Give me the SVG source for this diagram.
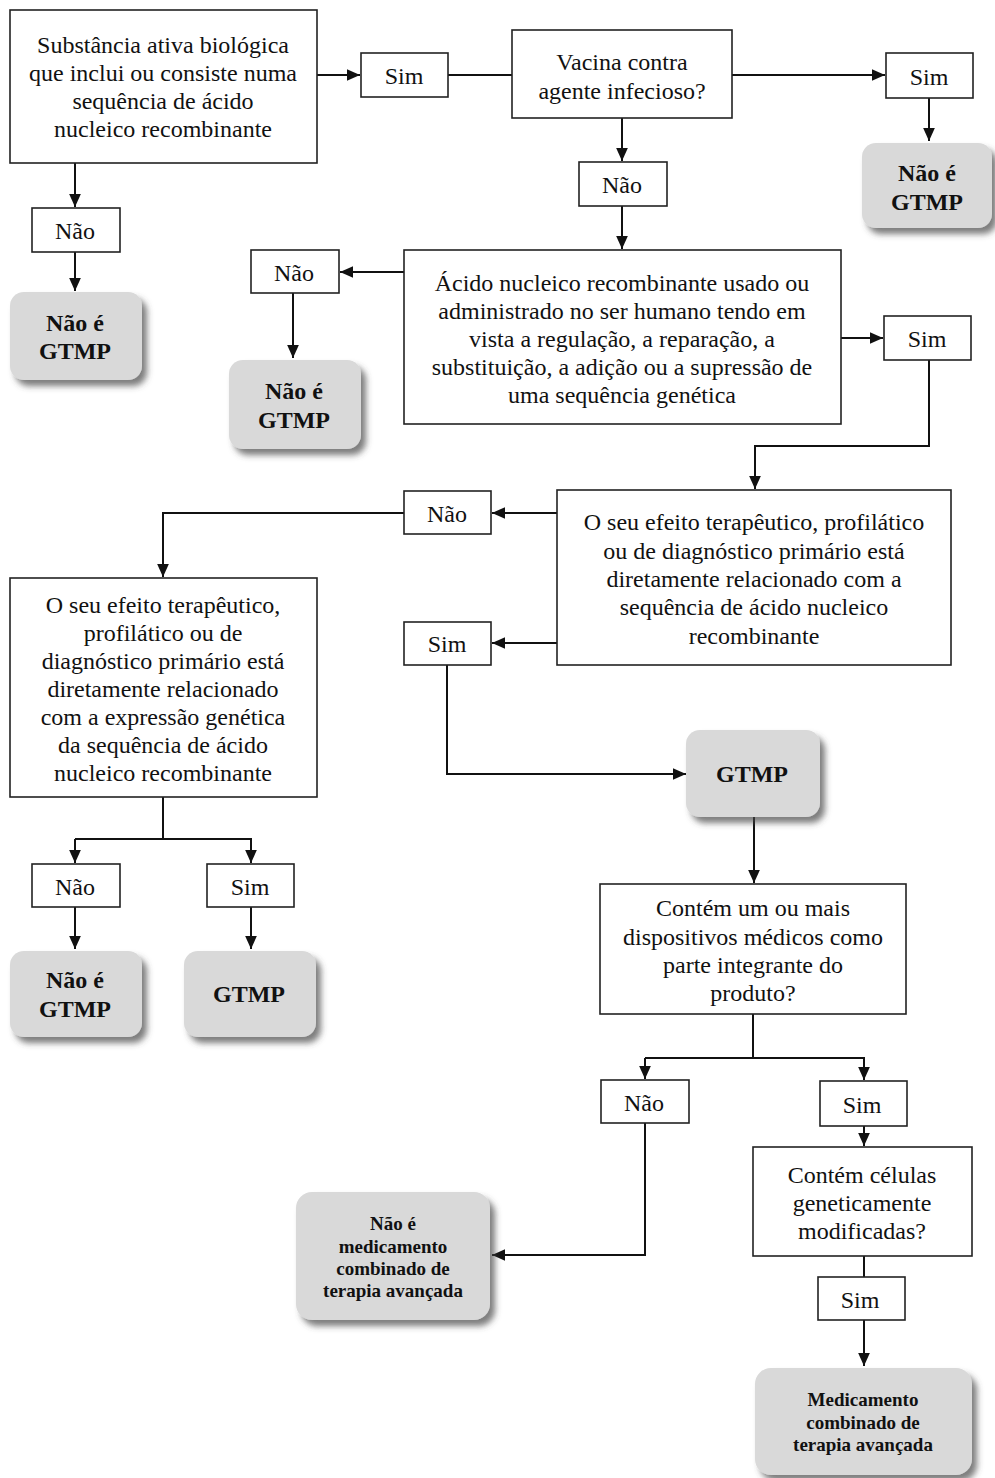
<svg xmlns="http://www.w3.org/2000/svg" width="995" height="1478" viewBox="0 0 995 1478">
<style>
.box{fill:#fff;stroke:#222;stroke-width:1.6}
.term{fill:#d9d9d9;stroke:none}
.t{font-family:"Liberation Serif","Times New Roman",serif;font-size:24px;fill:#111;text-anchor:middle}
.b{font-family:"Liberation Serif","Times New Roman",serif;font-weight:bold;font-size:24px;fill:#111;text-anchor:middle}
.bs{font-family:"Liberation Serif","Times New Roman",serif;font-weight:bold;font-size:19px;fill:#111;text-anchor:middle}
.c{fill:none;stroke:#111;stroke-width:2}
.ca{fill:none;stroke:#111;stroke-width:2;marker-end:url(#ah)}
</style>
<defs>
<marker id="ah" viewBox="0 0 10 10" refX="10" refY="5" markerWidth="13" markerHeight="13" markerUnits="userSpaceOnUse" orient="auto">
<path d="M0,0.5 L10,5 L0,9.5 z" fill="#111"/>
</marker>
<filter id="sh" x="-20%" y="-20%" width="150%" height="150%">
<feDropShadow dx="5" dy="6" stdDeviation="3" flood-color="#444" flood-opacity="0.7"/>
</filter>
</defs>
<rect width="995" height="1478" fill="#fff"/>

<g id="connectors">
<path class="ca" d="M317,75 H360"/>
<path class="c" d="M448,75 H512"/>
<path class="ca" d="M732,75 H885"/>
<path class="ca" d="M929,98 V141"/>
<path class="ca" d="M622,118 V161"/>
<path class="ca" d="M622,206 V249"/>
<path class="ca" d="M75,163 V207"/>
<path class="ca" d="M75,252 V291"/>
<path class="ca" d="M404,272 H340"/>
<path class="ca" d="M293,293 V358"/>
<path class="ca" d="M841,338 H883"/>
<path class="ca" d="M929,360 V446 H755 V489"/>
<path class="ca" d="M557,513 H492"/>
<path class="ca" d="M404,513 H163 V577"/>
<path class="ca" d="M557,643 H492"/>
<path class="ca" d="M447,665 V774 H686"/>
<path class="ca" d="M754,817 V883"/>
<path class="c" d="M163,797 V839"/>
<path class="ca" d="M75,839 V863"/>
<path class="ca" d="M75,839 H251 V863"/>
<path class="ca" d="M75,907 V949"/>
<path class="ca" d="M251,907 V949"/>
<path class="c" d="M753,1014 V1058"/>
<path class="ca" d="M645,1058 V1079"/>
<path class="ca" d="M645,1058 H864 V1080"/>
<path class="ca" d="M645,1123 V1255 H492"/>
<path class="ca" d="M864,1126 V1146"/>
<path class="c" d="M864,1256 V1277"/>
<path class="ca" d="M864,1320 V1366"/>
</g>

<g id="n1">
<rect class="box" x="10" y="10" width="307" height="153"/>
<text class="t" x="163" y="53">Substância ativa biológica</text>
<text class="t" x="163" y="81">que inclui ou consiste numa</text>
<text class="t" x="163" y="109">sequência de ácido</text>
<text class="t" x="163" y="137">nucleico recombinante</text>
</g>
<g id="sim1"><rect class="box" x="361" y="53" width="87" height="44"/><text class="t" x="404" y="84">Sim</text></g>
<g id="n2">
<rect class="box" x="512" y="30" width="220" height="88"/>
<text class="t" x="622" y="70">Vacina contra</text>
<text class="t" x="622" y="99">agente infecioso?</text>
</g>
<g id="sim2"><rect class="box" x="886" y="53" width="87" height="45"/><text class="t" x="929" y="85">Sim</text></g>
<g id="t1" filter="url(#sh)"><rect class="term" x="862" y="143" width="130" height="85" rx="14"/></g>
<g id="t1txt"><text class="b" x="927" y="181">Não é</text><text class="b" x="927" y="210">GTMP</text></g>
<g id="nao2"><rect class="box" x="579" y="162" width="88" height="44"/><text class="t" x="622" y="193">Não</text></g>
<g id="nao1"><rect class="box" x="32" y="208" width="88" height="44"/><text class="t" x="75" y="239">Não</text></g>
<g id="t2" filter="url(#sh)"><rect class="term" x="10" y="292" width="132" height="88" rx="14"/></g>
<g id="t2txt"><text class="b" x="75" y="331">Não é</text><text class="b" x="75" y="359">GTMP</text></g>
<g id="n3">
<rect class="box" x="404" y="250" width="437" height="174"/>
<text class="t" x="622" y="291">Ácido nucleico recombinante usado ou</text>
<text class="t" x="622" y="319">administrado no ser humano tendo em</text>
<text class="t" x="622" y="347">vista a regulação, a reparação, a</text>
<text class="t" x="622" y="375">substituição, a adição ou a supressão de</text>
<text class="t" x="622" y="403">uma sequência genética</text>
</g>
<g id="nao3"><rect class="box" x="251" y="250" width="88" height="43"/><text class="t" x="294" y="281">Não</text></g>
<g id="t3" filter="url(#sh)"><rect class="term" x="229" y="360" width="132" height="89" rx="14"/></g>
<g id="t3txt"><text class="b" x="294" y="399">Não é</text><text class="b" x="294" y="428">GTMP</text></g>
<g id="sim3"><rect class="box" x="884" y="316" width="87" height="44"/><text class="t" x="927" y="347">Sim</text></g>
<g id="n4">
<rect class="box" x="557" y="490" width="394" height="175"/>
<text class="t" x="754" y="530">O seu efeito terapêutico, profilático</text>
<text class="t" x="754" y="559">ou de diagnóstico primário está</text>
<text class="t" x="754" y="587">diretamente relacionado com a</text>
<text class="t" x="754" y="615">sequência de ácido nucleico</text>
<text class="t" x="754" y="644">recombinante</text>
</g>
<g id="nao4"><rect class="box" x="404" y="491" width="87" height="43"/><text class="t" x="447" y="522">Não</text></g>
<g id="sim4"><rect class="box" x="404" y="622" width="87" height="43"/><text class="t" x="447" y="652">Sim</text></g>
<g id="n5">
<rect class="box" x="10" y="578" width="307" height="219"/>
<text class="t" x="163" y="613">O seu efeito terapêutico,</text>
<text class="t" x="163" y="641">profilático ou de</text>
<text class="t" x="163" y="669">diagnóstico primário está</text>
<text class="t" x="163" y="697">diretamente relacionado</text>
<text class="t" x="163" y="725">com a expressão genética</text>
<text class="t" x="163" y="753">da sequência de ácido</text>
<text class="t" x="163" y="781">nucleico recombinante</text>
</g>
<g id="t4" filter="url(#sh)"><rect class="term" x="686" y="730" width="134" height="87" rx="14"/></g>
<g id="t4txt"><text class="b" x="752" y="782">GTMP</text></g>
<g id="nao5"><rect class="box" x="32" y="864" width="88" height="43"/><text class="t" x="75" y="895">Não</text></g>
<g id="sim5"><rect class="box" x="207" y="864" width="87" height="43"/><text class="t" x="250" y="895">Sim</text></g>
<g id="t5" filter="url(#sh)"><rect class="term" x="10" y="951" width="132" height="86" rx="14"/></g>
<g id="t5txt"><text class="b" x="75" y="988">Não é</text><text class="b" x="75" y="1017">GTMP</text></g>
<g id="t6" filter="url(#sh)"><rect class="term" x="184" y="951" width="132" height="86" rx="14"/></g>
<g id="t6txt"><text class="b" x="249" y="1002">GTMP</text></g>
<g id="n6">
<rect class="box" x="600" y="884" width="306" height="130"/>
<text class="t" x="753" y="916">Contém um ou mais</text>
<text class="t" x="753" y="945">dispositivos médicos como</text>
<text class="t" x="753" y="973">parte integrante do</text>
<text class="t" x="753" y="1001">produto?</text>
</g>
<g id="nao6"><rect class="box" x="601" y="1080" width="88" height="43"/><text class="t" x="644" y="1111">Não</text></g>
<g id="sim6"><rect class="box" x="820" y="1081" width="87" height="45"/><text class="t" x="862" y="1113">Sim</text></g>
<g id="t7" filter="url(#sh)"><rect class="term" x="296" y="1192" width="194" height="128" rx="16"/></g>
<g id="t7txt">
<text class="bs" x="393" y="1230">Não é</text>
<text class="bs" x="393" y="1253">medicamento</text>
<text class="bs" x="393" y="1275">combinado de</text>
<text class="bs" x="393" y="1297">terapia avançada</text>
</g>
<g id="n7">
<rect class="box" x="753" y="1147" width="219" height="109"/>
<text class="t" x="862" y="1183">Contém células</text>
<text class="t" x="862" y="1211">geneticamente</text>
<text class="t" x="862" y="1239">modificadas?</text>
</g>
<g id="sim7"><rect class="box" x="818" y="1277" width="87" height="43"/><text class="t" x="860" y="1308">Sim</text></g>
<g id="t8" filter="url(#sh)"><rect class="term" x="755" y="1368" width="217" height="107" rx="16"/></g>
<g id="t8txt">
<text class="bs" x="863" y="1406">Medicamento</text>
<text class="bs" x="863" y="1429">combinado de</text>
<text class="bs" x="863" y="1451">terapia avançada</text>
</g>
</svg>
